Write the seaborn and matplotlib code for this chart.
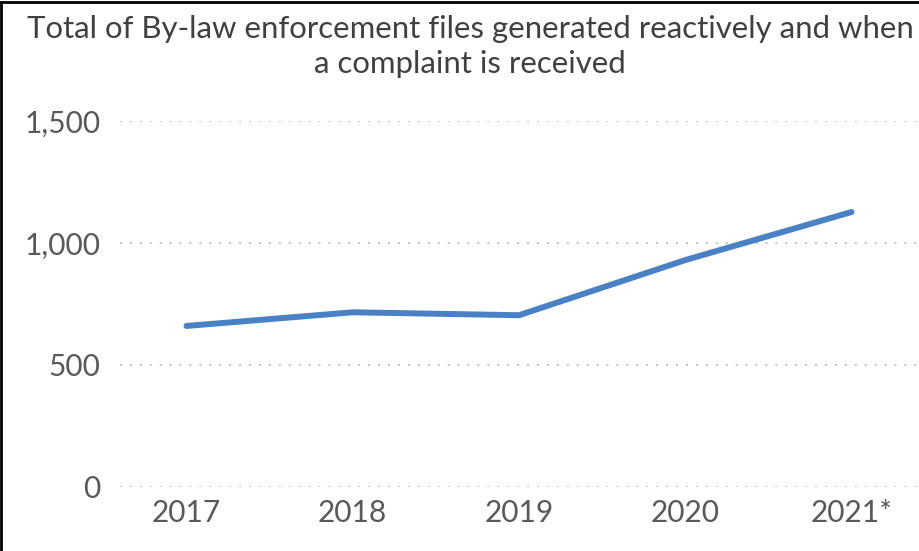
import seaborn as sns
import pandas as pd
import matplotlib.pyplot as plt
from matplotlib.lines import Line2D

years = ['2017', '2018', '2019', '2020', '2021*']
files = [660, 716, 704, 930, 1127]
yticks = [0, 500, 1000, 1500]
ytick_labels = ['0', '500', '1,000', '1,500']

df = pd.DataFrame({'year': years, 'files': files})

sns.set_style('white')
plt.rcParams['font.family'] = ['Lato', 'DejaVu Sans']

fig = plt.figure(figsize=(9.2, 5.51), dpi=100)
ax = fig.add_axes([120 / 920, (551 - 487) / 551, (918 - 120) / 920, (487 - 121) / 551])

sns.lineplot(data=df, x='year', y='files', ax=ax, color='#4a80c4', linewidth=4.3,
             sort=False, solid_capstyle='round')

ax.set_xlim(-0.4, 4.4)
ax.set_ylim(0, 1500)
ax.set_yticks(yticks)
ax.set_yticklabels(ytick_labels)
ax.yaxis.grid(True, linestyle=(0, (1, 4.5)), color='#b8b8b8', linewidth=1.3)
ax.set_axisbelow(True)
for s in ax.spines.values():
    s.set_visible(False)
ax.tick_params(axis='both', length=0, labelsize=21.5, labelcolor='#595959')
ax.tick_params(axis='y', pad=14)
ax.tick_params(axis='x', pad=9)
ax.set_xlabel('')
ax.set_ylabel('')

fig.text(0.511, 0.972, 'Total of By-law enforcement files generated reactively and when\na complaint is received',
         ha='center', va='top', fontsize=22.4, color='#404040', linespacing=1.3)

# border of the chart area (left and top visible)
fig.add_artist(Line2D([1.5 / 920, 1.5 / 920], [0, 1 - 2 / 551], transform=fig.transFigure, color='black', lw=2))
fig.add_artist(Line2D([0, 1], [1 - 2 / 551, 1 - 2 / 551], transform=fig.transFigure, color='black', lw=2))

fig.savefig('out.png', dpi=100)
